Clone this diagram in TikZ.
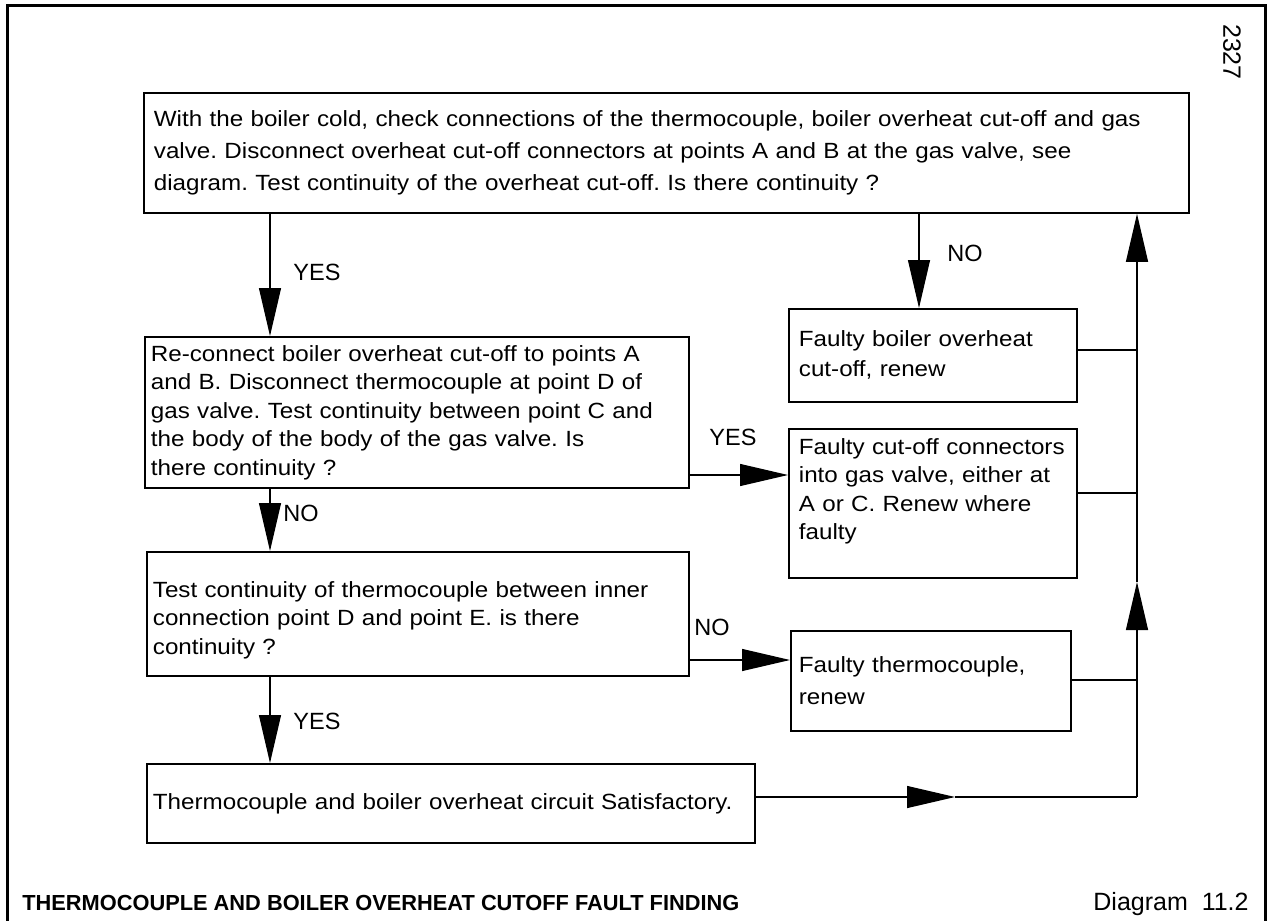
\documentclass[tikz,border=0pt]{standalone}
\usepackage{fontspec}
\setmainfont{Liberation Sans}
\newfontfamily\boxfam{Liberation Sans}[FakeStretch=1.1]
\newfontfamily\lblfam{Liberation Sans}
\usetikzlibrary{arrows.meta}
\newcommand{\jline}[2]{\makebox[#1][s]{#2}}
\frenchspacing
\begin{document}
\begin{tikzpicture}[x=0.5pt,y=-0.5pt,
  box/.style={draw, line width=0.9pt, rectangle, anchor=north west, inner xsep=3pt, inner ysep=0pt, align=left},
  btxt/.style={font={\boxfam\fontsize{11}{14.25}\selectfont}},
  conn/.style={line width=0.6pt},
  arr/.style={conn, -{Triangle[length=24pt,width=11pt]}},
  lbl/.style={font={\lblfam\fontsize{11.75}{14}\selectfont}, inner sep=0pt, anchor=west}
]
\useasboundingbox (0,0) rectangle (1280,921);
% outer frame
\draw[line width=1.5pt] (7,921) -- (7,5) -- (1265,5) -- (1265,921);
\node[font={\lblfam\fontsize{12.5}{14}\selectfont}, rotate=-90, inner sep=0pt] (num) at (1232,52) {2327};

% boxes
\node[box, font={\boxfam\fontsize{11}{16}\selectfont}, inner xsep=5pt, minimum width=522.5pt, minimum height=60pt, text width=512.5pt] (b1) at (143,92)
 {With the boiler cold, check connections of the thermocouple, boiler overheat cut-off and gas\\
  valve. Disconnect overheat cut-off connectors at points A and B at the gas valve, see\\
  diagram. Test continuity of the overheat cut-off. Is there continuity ?};

\node[box, btxt, minimum width=272pt, minimum height=75.5pt, text width=266pt] (b2) at (144,336)
 {\jline{259.5pt}{Re-connect boiler overheat cut-off to points A}\\
  \jline{259.5pt}{and B. Disconnect thermocouple at point D of}\\
  \jline{259.5pt}{gas valve. Test continuity between point C and}\\
  \jline{245pt}{the body of the body of the gas valve. Is}\\
  there continuity ?};

\node[box, font={\boxfam\fontsize{11}{15}\selectfont}, inner xsep=5pt, minimum width=144pt, minimum height=46.5pt, text width=134pt] (b3) at (788,308)
 {Faulty boiler overheat\\cut-off, renew};

\node[box, btxt, inner xsep=5pt, minimum width=144pt, minimum height=74.5pt, text width=134pt] (b4) at (788,428)
 {\jline{134pt}{Faulty cut-off connectors}\\
  \jline{134pt}{into gas valve, either at}\\
  \jline{122.5pt}{A or C. Renew where}\\
  faulty\\
  \mbox{}};

\node[box, btxt, minimum width=271pt, minimum height=62pt, text width=265pt] (b5) at (146,551)
 {\mbox{}\\
  \jline{254.5pt}{Test continuity of thermocouple between inner}\\
  \jline{224.5pt}{connection point D and point E. is there}\\
  continuity ?};

\node[box, btxt, minimum width=304pt, minimum height=39.5pt, text width=298pt] (b6) at (146,763)
 {Thermocouple and boiler overheat circuit Satisfactory.};

\node[box, font={\boxfam\fontsize{11}{16}\selectfont}, inner xsep=4pt, minimum width=140pt, minimum height=50pt, text width=132pt] (b7) at (790,630)
 {Faulty thermocouple,\\renew};

% labels
\node[lbl] (l1) at (293,272) {YES};
\node[lbl] (l2) at (947,253) {NO};
\node[lbl] (l3) at (709,437) {YES};
\node[lbl] (l4) at (283,513) {NO};
\node[lbl] (l5) at (694,627) {NO};
\node[lbl] (l6) at (293,721) {YES};

% columns and rows
\coordinate (cA) at (270,0);
\coordinate (cB) at (919,0);
\coordinate (cR) at (1137,0);
\coordinate (r1) at (0,475);
\coordinate (r2) at (0,660);
\coordinate (r3) at (0,350);
\coordinate (r4) at (0,493);
\coordinate (r5) at (0,680);
\coordinate (r6) at (0,797);
\coordinate (m1) at (955,797);
\coordinate (corner) at (1137,797);
\coordinate (m2) at (1137,582);

% connectors
\draw[arr] (cA |- b1.south) -- (cA |- b2.north);
\draw[arr] (cB |- b1.south) -- (cB |- b3.north);
\draw[arr] (cA |- b2.south) -- (cA |- b5.north);
\draw[arr] (cA |- b5.south) -- (cA |- b6.north);
\draw[arr] (b2.east |- r1) -- (b4.west |- r1);
\draw[arr] (b5.east |- r2) -- (b7.west |- r2);
\draw[conn] (b3.east |- r3) -- (cR |- r3);
\draw[conn] (b4.east |- r4) -- (cR |- r4);
\draw[conn] (b7.east |- r5) -- (cR |- r5);
\draw[arr] (b6.east |- r6) -- (m1);
\draw[conn] (m1) -- (corner);
\draw[arr] (corner) -- (m2);
\draw[arr] (m2) -- (cR |- b1.south);

% title
\node[font={\lblfam\bfseries\fontsize{10.9}{13}\selectfont}, anchor=base west, inner sep=0pt] (title) at (22,910) {THERMOCOUPLE AND BOILER OVERHEAT CUTOFF FAULT FINDING};
\node[font={\lblfam\fontsize{12.5}{14}\selectfont}, anchor=base east, inner sep=0pt] (dg) at (1249,910) {Diagram\ \ 11.2};
\end{tikzpicture}
\end{document}
